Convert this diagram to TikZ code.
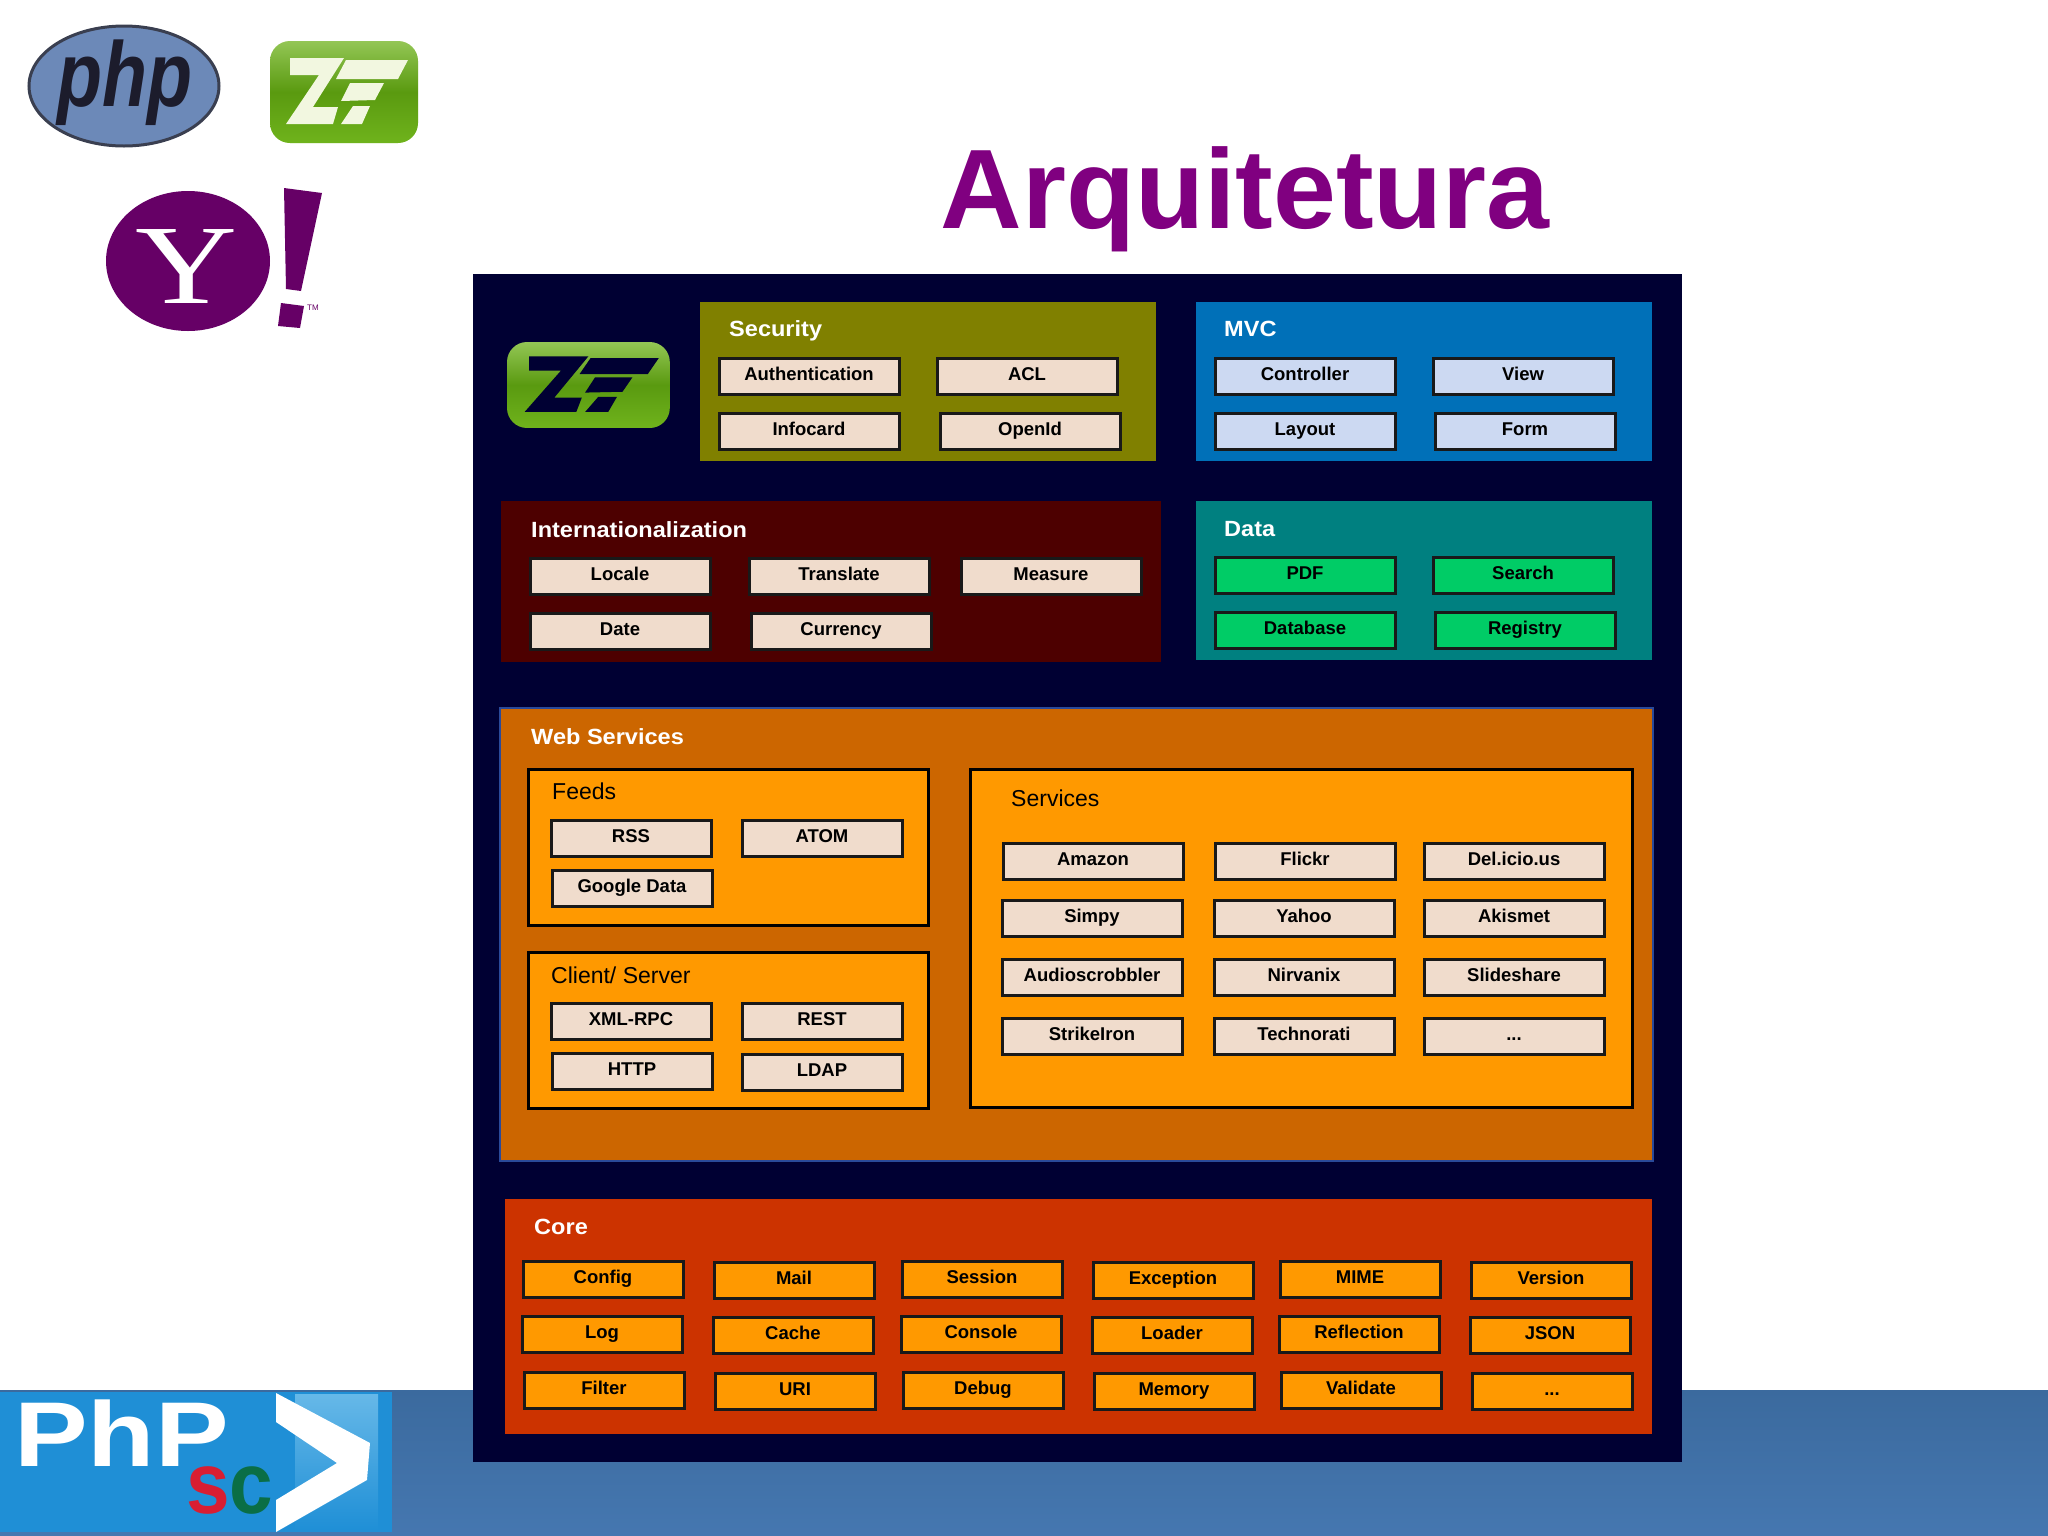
\documentclass[tikz,border=0pt]{standalone}
\usepackage{fontspec}
\setmainfont{Liberation Sans}
\newfontfamily\yahoofont{Liberation Serif}
\definecolor{panelbg}{HTML}{000033}
\definecolor{titlepurple}{HTML}{800080}
\definecolor{yahoopurple}{HTML}{660066}
\definecolor{secbg}{HTML}{808000}
\definecolor{mvcbg}{HTML}{0070B8}
\definecolor{intlbg}{HTML}{4D0000}
\definecolor{databg}{HTML}{008080}
\definecolor{wsbg}{HTML}{CC6600}
\definecolor{wsline}{HTML}{2A4A9A}
\definecolor{subbg}{HTML}{FF9900}
\definecolor{corebg}{HTML}{CC3300}
\definecolor{peach}{HTML}{F0DCCC}
\definecolor{paleblue}{HTML}{CCD9F2}
\definecolor{datagreen}{HTML}{00CC66}
\definecolor{zfgreen}{HTML}{6FB31C}
\definecolor{zfdark}{HTML}{5A9A10}
\definecolor{zfpale}{HTML}{F2F7E0}
\definecolor{phpblue}{HTML}{6C89B8}
\definecolor{phpedge}{HTML}{3A3F50}
\definecolor{phpink}{HTML}{1C1C2C}
\definecolor{bandtop}{HTML}{3B6A9E}
\definecolor{bandlow}{HTML}{4577B0}
\definecolor{scblue}{HTML}{1F8FD6}
\definecolor{sclight}{HTML}{66B8E8}
\definecolor{scred}{HTML}{D81E32}
\definecolor{scgreen}{HTML}{0A6E46}
\tikzset{
  paneltitle/.style={anchor=west,inner sep=0pt,xscale=1.07,text=white,text height=16pt,text depth=5pt,
    font=\fontsize{22}{24}\selectfont\bfseries},
  subtitle/.style={anchor=west,inner sep=0pt,text=black,text height=16pt,text depth=5pt,
    font=\fontsize{23}{25}\selectfont},
  subframe/.style={line width=3pt,draw=black,fill=subbg},
  itembox/.style={draw=black!90,line width=3pt,fill=peach,inner sep=0pt,
    minimum width=180pt,minimum height=36pt,text height=13pt,text depth=4pt,
    font=\fontsize{18.5}{20}\selectfont\bfseries},
  bluebox/.style={itembox,fill=paleblue},
  greenbox/.style={itembox,fill=datagreen},
  feedbox/.style={itembox,minimum width=160pt},
  corebox/.style={itembox,fill=subbg,minimum width=160pt},
  zflogo/.pic={
    \fill[top color=zfgreen!75!white,bottom color=zfgreen,middle color=zfdark,rounded corners=20pt] (0,0) rectangle (148,102);
    \fill[pic actions] (20,17)--(74,17)--(43,66)--(68,66)--(63,83)--(16,83)--(49,34)--(20,34)--cycle;
    \fill[pic actions] (76,19)--(138,19)--(128,38)--(66,38)--cycle;
    \fill[pic actions] (80,42)--(114,42)--(105,59)--(71,60)--cycle;
    \fill[pic actions] (83,65)--(100,65)--(92,83)--(71,83)--cycle;
  },
}
\begin{document}
\begin{tikzpicture}[x=1pt,y=-1pt]
\useasboundingbox (0,0) rectangle (2048,1535);
% footer
\shade[top color=bandtop,bottom color=bandlow] (0,1390) rectangle (2048,1535);
\fill[scblue] (0,1392) rectangle (392,1532);
\shade[top color=sclight,bottom color=scblue] (295,1394) rectangle (378,1530);
\node[anchor=base west,inner sep=0pt,xscale=1.2,text=white,font=\fontsize{92}{94}\selectfont\bfseries] (phpword) at (14,1466) {PhP};
\node[anchor=base west,inner sep=0pt,xscale=.9,font=\fontsize{87}{90}\selectfont\bfseries] (scword) at (186,1513) {\textcolor{scred}{s}\textcolor{scgreen}{c}};
\fill[white] (276,1393)--(370,1443)--(367,1480)--(276,1532)--(276,1500)--(337,1463)--(276,1422)--cycle;
% logos
\draw[line width=3pt,fill=phpblue,draw=phpedge] (124,86) ellipse (95 and 60);
\node[inner sep=0pt,xscale=.8,text=phpink,font=\fontsize{92}{94}\selectfont\bfseries\itshape] (phpname) at (125,83) {php};
\pic[fill=zfpale] at (270,41) {zflogo};
\fill[yahoopurple] (188,261) ellipse (82 and 70);
\node[anchor=base,inner sep=0pt,xscale=1.25,text=white,font=\fontsize{113}{115}\yahoofont] (yahooY) at (187,303) {Y};
\fill[yahoopurple] (284,188)--(322,193)--(301,291)--(286,289)--cycle;
\fill[yahoopurple] (281,303)--(304,306)--(300,328)--(278,326)--cycle;
\node[inner sep=0pt,text=yahoopurple,font=\fontsize{8}{9}\selectfont] (yahooTM) at (313,308) {TM};
% title
\node[anchor=base,inner sep=0pt,text=titlepurple,font=\fontsize{113}{120}\selectfont\bfseries] (title) at (1245,228) {Arquitetura};
% main panel
\fill[panelbg] (473,274) rectangle (1682,1462);
\pic[fill=panelbg,xscale=1.1,yscale=.843] at (507,342) {zflogo};
% security
\fill[secbg] (700,302) rectangle (1156,461);
\node[paneltitle] (secTitle) at (729,331) {Security};
\node[itembox] (auth) at (809,376) {Authentication};
\node[itembox] (acl) at (1027,376) {ACL};
\node[itembox] (infocard) at (809,431) {Infocard};
\node[itembox] (openid) at (1030,431) {OpenId};
% mvc
\fill[mvcbg] (1196,302) rectangle (1652,461);
\node[paneltitle] (mvcTitle) at (1224,331) {MVC};
\node[bluebox] (controller) at (1305,376) {Controller};
\node[bluebox] (view) at (1523,376) {View};
\node[bluebox] (layout) at (1305,431) {Layout};
\node[bluebox] (form) at (1525,431) {Form};
% internationalization
\fill[intlbg] (501,501) rectangle (1161,662);
\node[paneltitle] (intlTitle) at (531,532) {Internationalization};
\node[itembox] (locale) at (620,576) {Locale};
\node[itembox] (translate) at (839,576) {Translate};
\node[itembox] (measure) at (1051,576) {Measure};
\node[itembox] (date) at (620,631) {Date};
\node[itembox] (currency) at (841,631) {Currency};
% data
\fill[databg] (1196,501) rectangle (1652,660);
\node[paneltitle] (dataTitle) at (1224,531) {Data};
\node[greenbox] (pdf) at (1305,575) {PDF};
\node[greenbox] (search) at (1523,575) {Search};
\node[greenbox] (database) at (1305,630) {Database};
\node[greenbox] (registry) at (1525,630) {Registry};
% web services
\draw[line width=2.4pt,draw=wsline,fill=wsbg] (500,708) rectangle (1653,1161);
\node[paneltitle] (wsTitle) at (531,739) {Web Services};
\draw[subframe] (528,769) rectangle (928,925);
\node[subtitle] (feedsTitle) at (552,794) {Feeds};
\node[feedbox] (rss) at (631,838) {RSS};
\node[feedbox] (atom) at (822,838) {ATOM};
\node[feedbox] (google) at (632,888) {Google Data};
\draw[subframe] (528,952) rectangle (928,1108);
\node[subtitle] (clientTitle) at (551,978) {Client/ Server};
\node[feedbox] (xmlrpc) at (631,1021) {XML-RPC};
\node[feedbox] (rest) at (822,1021) {REST};
\node[feedbox] (http) at (632,1071) {HTTP};
\node[feedbox] (ldap) at (822,1072) {LDAP};
\draw[subframe] (970,769) rectangle (1632,1107);
\node[subtitle] (servicesTitle) at (1011,801) {Services};
\node[itembox] (amazon) at (1093,861) {Amazon};
\node[itembox] (flickr) at (1305,861) {Flickr};
\node[itembox] (delicious) at (1514,861) {Del.icio.us};
\node[itembox] (simpy) at (1092,918) {Simpy};
\node[itembox] (yahoo) at (1304,918) {Yahoo};
\node[itembox] (akismet) at (1514,918) {Akismet};
\node[itembox] (audio) at (1092,977) {Audioscrobbler};
\node[itembox] (nirvanix) at (1304,977) {Nirvanix};
\node[itembox] (slideshare) at (1514,977) {Slideshare};
\node[itembox] (strike) at (1092,1036) {StrikeIron};
\node[itembox] (technorati) at (1304,1036) {Technorati};
\node[itembox] (moreserv) at (1514,1036) {...};
% core
\fill[corebg] (505,1199) rectangle (1652,1434);
\node[paneltitle] (coreTitle) at (534,1229) {Core};
\node[corebox] (config) at (603,1279) {Config};
\node[corebox] (mail) at (794,1280) {Mail};
\node[corebox] (session) at (982,1279) {Session};
\node[corebox] (exception) at (1173,1280) {Exception};
\node[corebox] (mime) at (1360,1279) {MIME};
\node[corebox] (version) at (1551,1280) {Version};
\node[corebox] (log) at (602,1334) {Log};
\node[corebox] (cache) at (793,1335) {Cache};
\node[corebox] (console) at (981,1334) {Console};
\node[corebox] (loader) at (1172,1335) {Loader};
\node[corebox] (reflection) at (1359,1334) {Reflection};
\node[corebox] (json) at (1550,1335) {JSON};
\node[corebox] (filter) at (604,1390) {Filter};
\node[corebox] (uri) at (795,1391) {URI};
\node[corebox] (debug) at (983,1390) {Debug};
\node[corebox] (memory) at (1174,1391) {Memory};
\node[corebox] (validate) at (1361,1390) {Validate};
\node[corebox] (morecore) at (1552,1391) {...};
\end{tikzpicture}
\end{document}
